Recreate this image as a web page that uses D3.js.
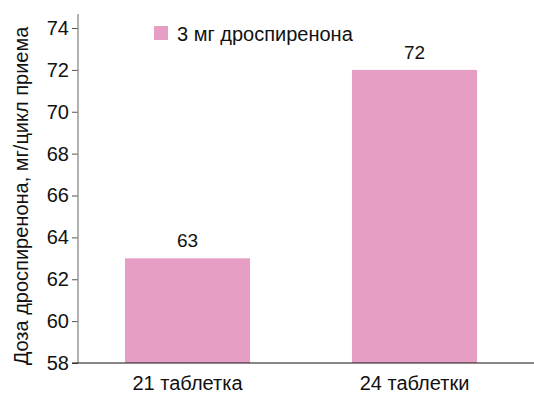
<!DOCTYPE html>
<html>
<head>
<meta charset="utf-8">
<script src="https://cdn.jsdelivr.net/npm/d3@7/dist/d3.min.js"></script>
<style>
  html, body { margin: 0; padding: 0; background: #fff; }
  svg { display: block; font-family: "Liberation Sans", Arial, sans-serif; }
</style>
</head>
<body>
<svg id="chart" width="534" height="394"></svg>
<script>
const categories = ["21 таблетка", "24 таблетки"];
const doseValues = [63, 72];
const seriesName = "3 мг дроспиренона";
const yTicks = [58, 60, 62, 64, 66, 68, 70, 72, 74];
const yTitle = "Доза дроспиренона, мг/цикл приема";

const svg = d3.select("#chart");
const barColor = "#e69ec5";
const font = "Liberation Sans, Arial, sans-serif";

const x = d3.scaleBand().domain(categories).range([78, 524])
  .paddingInner(0.449).paddingOuter(0.207);
const y = d3.scaleLinear().domain([58, 74]).range([363, 28]);
const yTop = 74.67;

// bars
svg.append("g").selectAll("rect").data(categories).join("rect")
  .attr("x", d => x(d))
  .attr("y", (d, i) => y(doseValues[i]))
  .attr("width", x.bandwidth())
  .attr("height", (d, i) => y(58) - y(doseValues[i]))
  .attr("fill", barColor);

// value labels
svg.append("g").selectAll("text").data(categories).join("text")
  .attr("x", d => x(d) + x.bandwidth() / 2)
  .attr("y", (d, i) => y(doseValues[i]) - 11)
  .attr("text-anchor", "middle")
  .attr("font-size", 19)
  .attr("fill", "#111")
  .text((d, i) => doseValues[i]);

// y axis
const yAxis = svg.append("g").attr("transform", "translate(78,0)")
  .call(d3.axisLeft(y).tickValues(yTicks).tickSize(6).tickPadding(3).tickSizeOuter(0));
yAxis.select(".domain").remove();
yAxis.append("line").attr("x1", 0).attr("x2", 0).attr("y1", y(yTop)).attr("y2", y(58))
  .attr("stroke", "#888").attr("stroke-width", 1.3);
yAxis.selectAll(".tick line").attr("stroke", "#555");
yAxis.selectAll(".tick text").attr("font-size", 20).attr("fill", "#111")
  .attr("font-family", font);

// x axis baseline
const xAxis = svg.append("g").attr("transform", `translate(0,${y(58)})`)
  .call(d3.axisBottom(x).tickSize(0).tickPadding(13));
xAxis.select(".domain").remove();
xAxis.append("line").attr("x1", 72).attr("x2", 534).attr("y1", 0).attr("y2", 0)
  .attr("stroke", "#111").attr("stroke-width", 1.2);
xAxis.selectAll(".tick text").attr("font-size", 20).attr("fill", "#111")
  .attr("font-family", font);

// y title
svg.append("text")
  .attr("transform", "translate(28,196) rotate(-90)")
  .attr("text-anchor", "middle")
  .attr("font-size", 20)
  .attr("fill", "#111")
  .text(yTitle);

// legend
const legend = svg.append("g").attr("transform", "translate(154,26)");
legend.append("rect").attr("width", 14).attr("height", 14).attr("fill", barColor);
legend.append("text").attr("x", 23).attr("y", 14.5).attr("font-size", 20).attr("fill", "#111")
  .text(seriesName);
</script>
</body>
</html>
